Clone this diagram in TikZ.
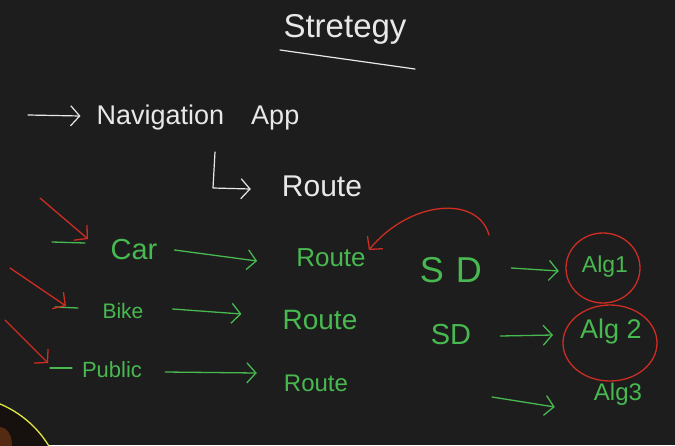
\documentclass[tikz,border=0pt]{standalone}
\usepackage{fontspec}
\setmainfont{Liberation Sans}
\usetikzlibrary{arrows.meta}
\definecolor{board}{RGB}{29,29,29}
\definecolor{chalkw}{RGB}{232,232,232}
\definecolor{chalkg}{RGB}{72,185,80}
\definecolor{chalkr}{RGB}{205,45,35}
\definecolor{camring}{RGB}{225,232,70}
\definecolor{camfill}{RGB}{22,16,14}
\definecolor{camglow}{RGB}{110,55,20}
\begin{document}
\begin{tikzpicture}[x=1pt,y=-1pt,
  wtext/.style={text=chalkw, inner sep=1pt},
  gtext/.style={text=chalkg, inner sep=1pt},
  handarrow/.style={-{Straight Barb[length=9pt,width=20pt]}},
  wline/.style={draw=chalkw, line width=1.2pt, line cap=round, line join=round},
  gline/.style={draw=chalkg, line width=1.3pt, line cap=round, line join=round},
  rline/.style={draw=chalkr, line width=1.3pt, line cap=round, line join=round},
  fs/.style={font=\fontsize{#1}{#1}\selectfont}]
\useasboundingbox (0,0) rectangle (675,445);
\fill[board] (0,0) rectangle (675,445);
\begin{scope}
\clip (0,0) rectangle (675,445);
\fill[camfill] (-40,500) circle (104);
\fill[camglow, opacity=0.7] (0,445) ellipse [x radius=12, y radius=18];
\draw[camring, line width=1.3pt] (-40,500) circle (104);
\end{scope}

% title
\node[wtext, fs=33] (title) at (345,29) {Stretegy};
\coordinate (ul1) at (280,50);
\coordinate (ul2) at (415,69);
\draw[wline] (ul1) -- (ul2);

% navigation app
\node[wtext, fs=27] (nav) at (198,118) {Navigation\quad App};
\coordinate (w0) at (28,115);
\draw[wline, handarrow] (w0) -- ([xshift=-15pt,yshift=2pt]nav.west);
\node[wtext, fs=30] (route0) at (322,186) {Route};
\coordinate (l0) at (215,152);
\draw[wline, handarrow] (l0) -- (213,188) -- ([xshift=-30pt,yshift=-3pt]route0.west);

% left column
\node[gtext, fs=29] (car) at (134,250) {Car};
\node[gtext, fs=21] (bike) at (123,311) {Bike};
\node[gtext, fs=22] (public) at (112,370) {Public};

\node[gtext, fs=26] (rt1) at (331,258) {Route};
\node[gtext, fs=28] (rt2) at (320,320) {Route};
\node[gtext, fs=24] (rt3) at (316,383) {Route};

\draw[gline, handarrow] ([xshift=16pt]car.east) -- ([xshift=-38pt,yshift=-3pt]rt1.west);
\draw[gline, handarrow] ([xshift=28pt,yshift=2pt]bike.east) -- ([xshift=-40pt,yshift=6pt]rt2.west);
\draw[gline, handarrow] ([xshift=22pt,yshift=-2pt]public.east) -- ([xshift=-26pt,yshift=10pt]rt3.west);

% dashes and red arrows
\coordinate (d1a) at (52,242); \coordinate (d1b) at (85,243);
\coordinate (d2a) at (55,307); \coordinate (d2b) at (78,308);
\coordinate (d3a) at (50,368); \coordinate (d3b) at (72,368);
\draw[gline] (d1a) -- (d1b);
\draw[gline] (d2a) -- (d2b);
\draw[gline] (d3a) -- (d3b);
\coordinate (r1) at (40,198);
\coordinate (r2) at (10,268);
\coordinate (r3) at (5,320);
\draw[rline, handarrow] (r1) -- ([shift={(3pt,4pt)}]d1b);
\draw[rline, handarrow] (r2) -- ([shift={(-12pt,2pt)}]d2b);
\draw[rline, handarrow] (r3) -- ([shift={(-24pt,5pt)}]d3b);

% right column
\node[gtext, fs=36] (sd1) at (451,270) {S\,\,D};
\node[gtext, fs=29] (sd2) at (451,335) {SD};
\node[gtext, fs=23] (alg1) at (605,267) {Alg1};
\node[gtext, fs=27] (alg2) at (611,332) {Alg 2};
\node[gtext, fs=24] (alg3) at (618,394) {Alg3};

\draw[gline, handarrow] ([xshift=28pt,yshift=2pt]sd1.east) -- ([xshift=-22pt,yshift=-4pt]alg1.west);
\draw[gline, handarrow] ([xshift=28pt,yshift=-1pt]sd2.east) -- ([xshift=-26pt,yshift=-3pt]alg2.west);
\coordinate (c3) at (492,397);
\draw[gline, handarrow] (c3) -- ([xshift=-38pt,yshift=-13pt]alg3.west);

\draw[rline] ([xshift=-2pt,yshift=-1pt]alg1.center) ellipse [x radius=37, y radius=35];
\draw[rline] ([xshift=-1pt,yshift=-11pt]alg2.center) ellipse [x radius=47, y radius=38];

% red arc to route
\coordinate (ra) at (489,235);
\draw[rline, handarrow] (ra) .. controls (478,195) and (410,200) .. ([xshift=2pt,yshift=8pt]rt1.east);
\end{tikzpicture}
\end{document}
